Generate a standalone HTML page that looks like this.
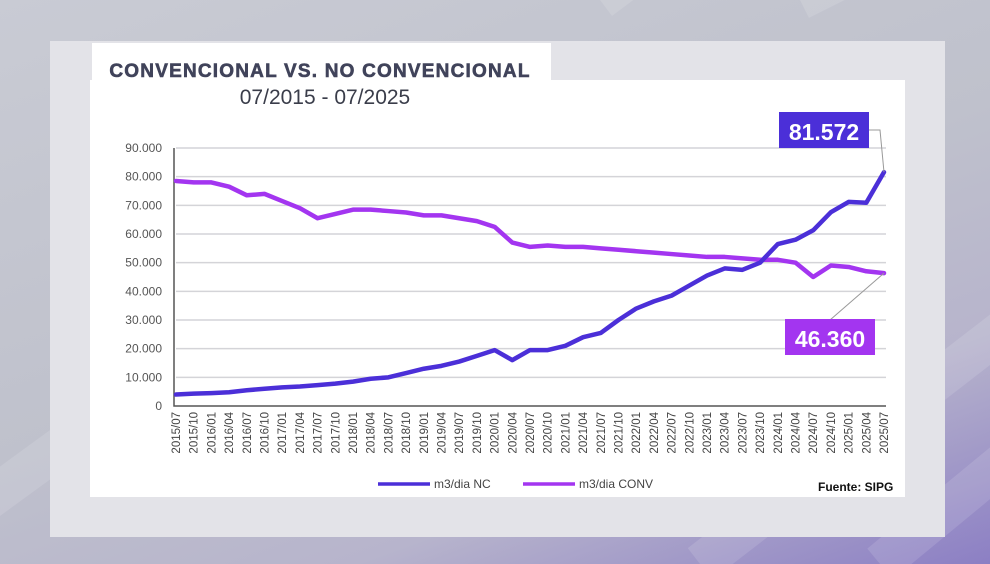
<!DOCTYPE html>
<html><head><meta charset="utf-8"><style>
body{margin:0;width:990px;height:564px;overflow:hidden;font-family:"Liberation Sans",sans-serif;}
#bg{position:absolute;left:0;top:0;width:990px;height:564px;background:linear-gradient(160deg,#c9cbd4 0%,#bfc1cc 50%,#b7b4cc 75%,#8c7fc4 100%);}
</style></head><body>
<div id="bg"></div>
<svg width="990" height="564" style="position:absolute;left:0;top:0">
<g stroke="#ffffff" stroke-opacity="0.12" stroke-width="40">
<line x1="600" y1="0" x2="1000" y2="-300"/><line x1="700" y1="564" x2="1300" y2="100"/><line x1="-100" y1="564" x2="400" y2="200"/><line x1="800" y1="0" x2="1200" y2="-200"/><line x1="880" y1="564" x2="1200" y2="300"/>
</g>
<rect x="50" y="41" width="895" height="496" fill="#e3e3e8"/>
<rect x="92" y="43" width="459" height="40" fill="#ffffff"/>
<rect x="90" y="80" width="815" height="417" fill="#ffffff"/>
<text x="320" y="77" text-anchor="middle" font-size="19" font-weight="900" fill="#40435a" stroke="#40435a" stroke-width="0.6" font-family="Liberation Sans, sans-serif" letter-spacing="1.2">CONVENCIONAL VS. NO CONVENCIONAL</text>
<text x="325" y="104" text-anchor="middle" font-size="21" fill="#3a3d4a" font-family="Liberation Sans, sans-serif">07/2015 - 07/2025</text>
<g id="chart"></g>
</svg>
<script>
const categories=["2015/07","2015/10","2016/01","2016/04","2016/07","2016/10","2017/01","2017/04","2017/07","2017/10","2018/01","2018/04","2018/07","2018/10","2019/01","2019/04","2019/07","2019/10","2020/01","2020/04","2020/07","2020/10","2021/01","2021/04","2021/07","2021/10","2022/01","2022/04","2022/07","2022/10","2023/01","2023/04","2023/07","2023/10","2024/01","2024/04","2024/07","2024/10","2025/01","2025/04","2025/07"];
const ncValues=[4000,4300,4500,4800,5500,6000,6500,6800,7300,7800,8500,9500,10000,11500,13000,14000,15500,17500,19500,16000,19500,19500,21000,24000,25500,30000,34000,36500,38500,42000,45500,48000,47500,50000,56500,58000,61300,67600,71200,70900,81572];
const convValues=[78500,78000,78000,76500,73500,74000,71500,69000,65500,67000,68500,68500,68000,67500,66500,66500,65500,64500,62500,57000,55500,56000,55500,55500,55000,54500,54000,53500,53000,52500,52000,52000,51500,51000,51000,50000,45000,49000,48500,47000,46360];
const yTicks=[0,10000,20000,30000,40000,50000,60000,70000,80000,90000];
const yTickLabels=["0","10.000","20.000","30.000","40.000","50.000","60.000","70.000","80.000","90.000"];
const NS="http://www.w3.org/2000/svg";
const g=document.getElementById('chart');
const x0=176,x1=884,y0=406,y1=148;
const xs=i=>x0+(x1-x0)*i/(categories.length-1);
const ys=v=>y0-(y0-y1)*v/90000;
function mk(t,a,txt){const e=document.createElementNS(NS,t);for(const k in a)e.setAttribute(k,a[k]);if(txt!=null)e.textContent=txt;g.appendChild(e);return e;}
yTicks.forEach((v,i)=>{
 if(v>0){const l=mk('line',{x1:x0,x2:x1+2,y1:ys(v),y2:ys(v),stroke:'#d4d4d8','stroke-width':1.5});
 
 }
 const t=mk('text',{x:162,y:ys(v)+4,'text-anchor':'end','font-size':12,fill:'#555'},yTickLabels[i]);
 
 
});
const ax=mk('path',{d:`M${x0-2},${y1} V${y0} H${x1+2}`,stroke:'#555','stroke-width':1.5,fill:'none'});


categories.forEach((c,i)=>{
 const t=mk('text',{transform:`translate(${xs(i)+4},412) rotate(-90)`,'text-anchor':'end','font-size':11.5,fill:'#444'},c);
 
 
});
function series(vals,col,name){
 const p=mk('polyline',{points:vals.map((v,i)=>xs(i)+','+ys(v)).join(' '),fill:'none',stroke:col,'stroke-width':4.5,'stroke-linejoin':'round','stroke-linecap':'round'});
 
 
}
series(convValues,'#a335f0','series-conv');
series(ncValues,'#4b2fd8','series-nc');
const n=categories.length-1;
const l1=mk('polyline',{points:`868,130 880,130 ${xs(n)},${ys(ncValues[n])}`,fill:'none',stroke:'#999','stroke-width':1});


const l2=mk('line',{x1:830,y1:320,x2:xs(n),y2:ys(convValues[n]),stroke:'#999','stroke-width':1});


const b1=mk('rect',{x:779,y:112,width:90,height:36,fill:'#4b2fd8'});


const t1=mk('text',{x:824,y:140,'text-anchor':'middle','font-size':23,'font-weight':'bold',fill:'#fff'},ncValues[n].toLocaleString('de-DE'));


const b2=mk('rect',{x:785,y:319,width:90,height:36,fill:'#a335f0'});


const t2=mk('text',{x:830,y:347,'text-anchor':'middle','font-size':23,'font-weight':'bold',fill:'#fff'},convValues[n].toLocaleString('de-DE'));


const lg1=mk('line',{x1:378,x2:430,y1:484,y2:484,stroke:'#4b2fd8','stroke-width':3.5});


const lt1=mk('text',{x:434,y:488,'font-size':12,fill:'#444'},'m3/dia NC');


const lg2=mk('line',{x1:523,x2:575,y1:484,y2:484,stroke:'#a335f0','stroke-width':3.5});


const lt2=mk('text',{x:579,y:488,'font-size':12,fill:'#444'},'m3/dia CONV');


const src=mk('text',{x:818,y:491,'font-size':12,'font-weight':'bold',fill:'#111'},'Fuente: SIPG');


</script>
</body></html>
